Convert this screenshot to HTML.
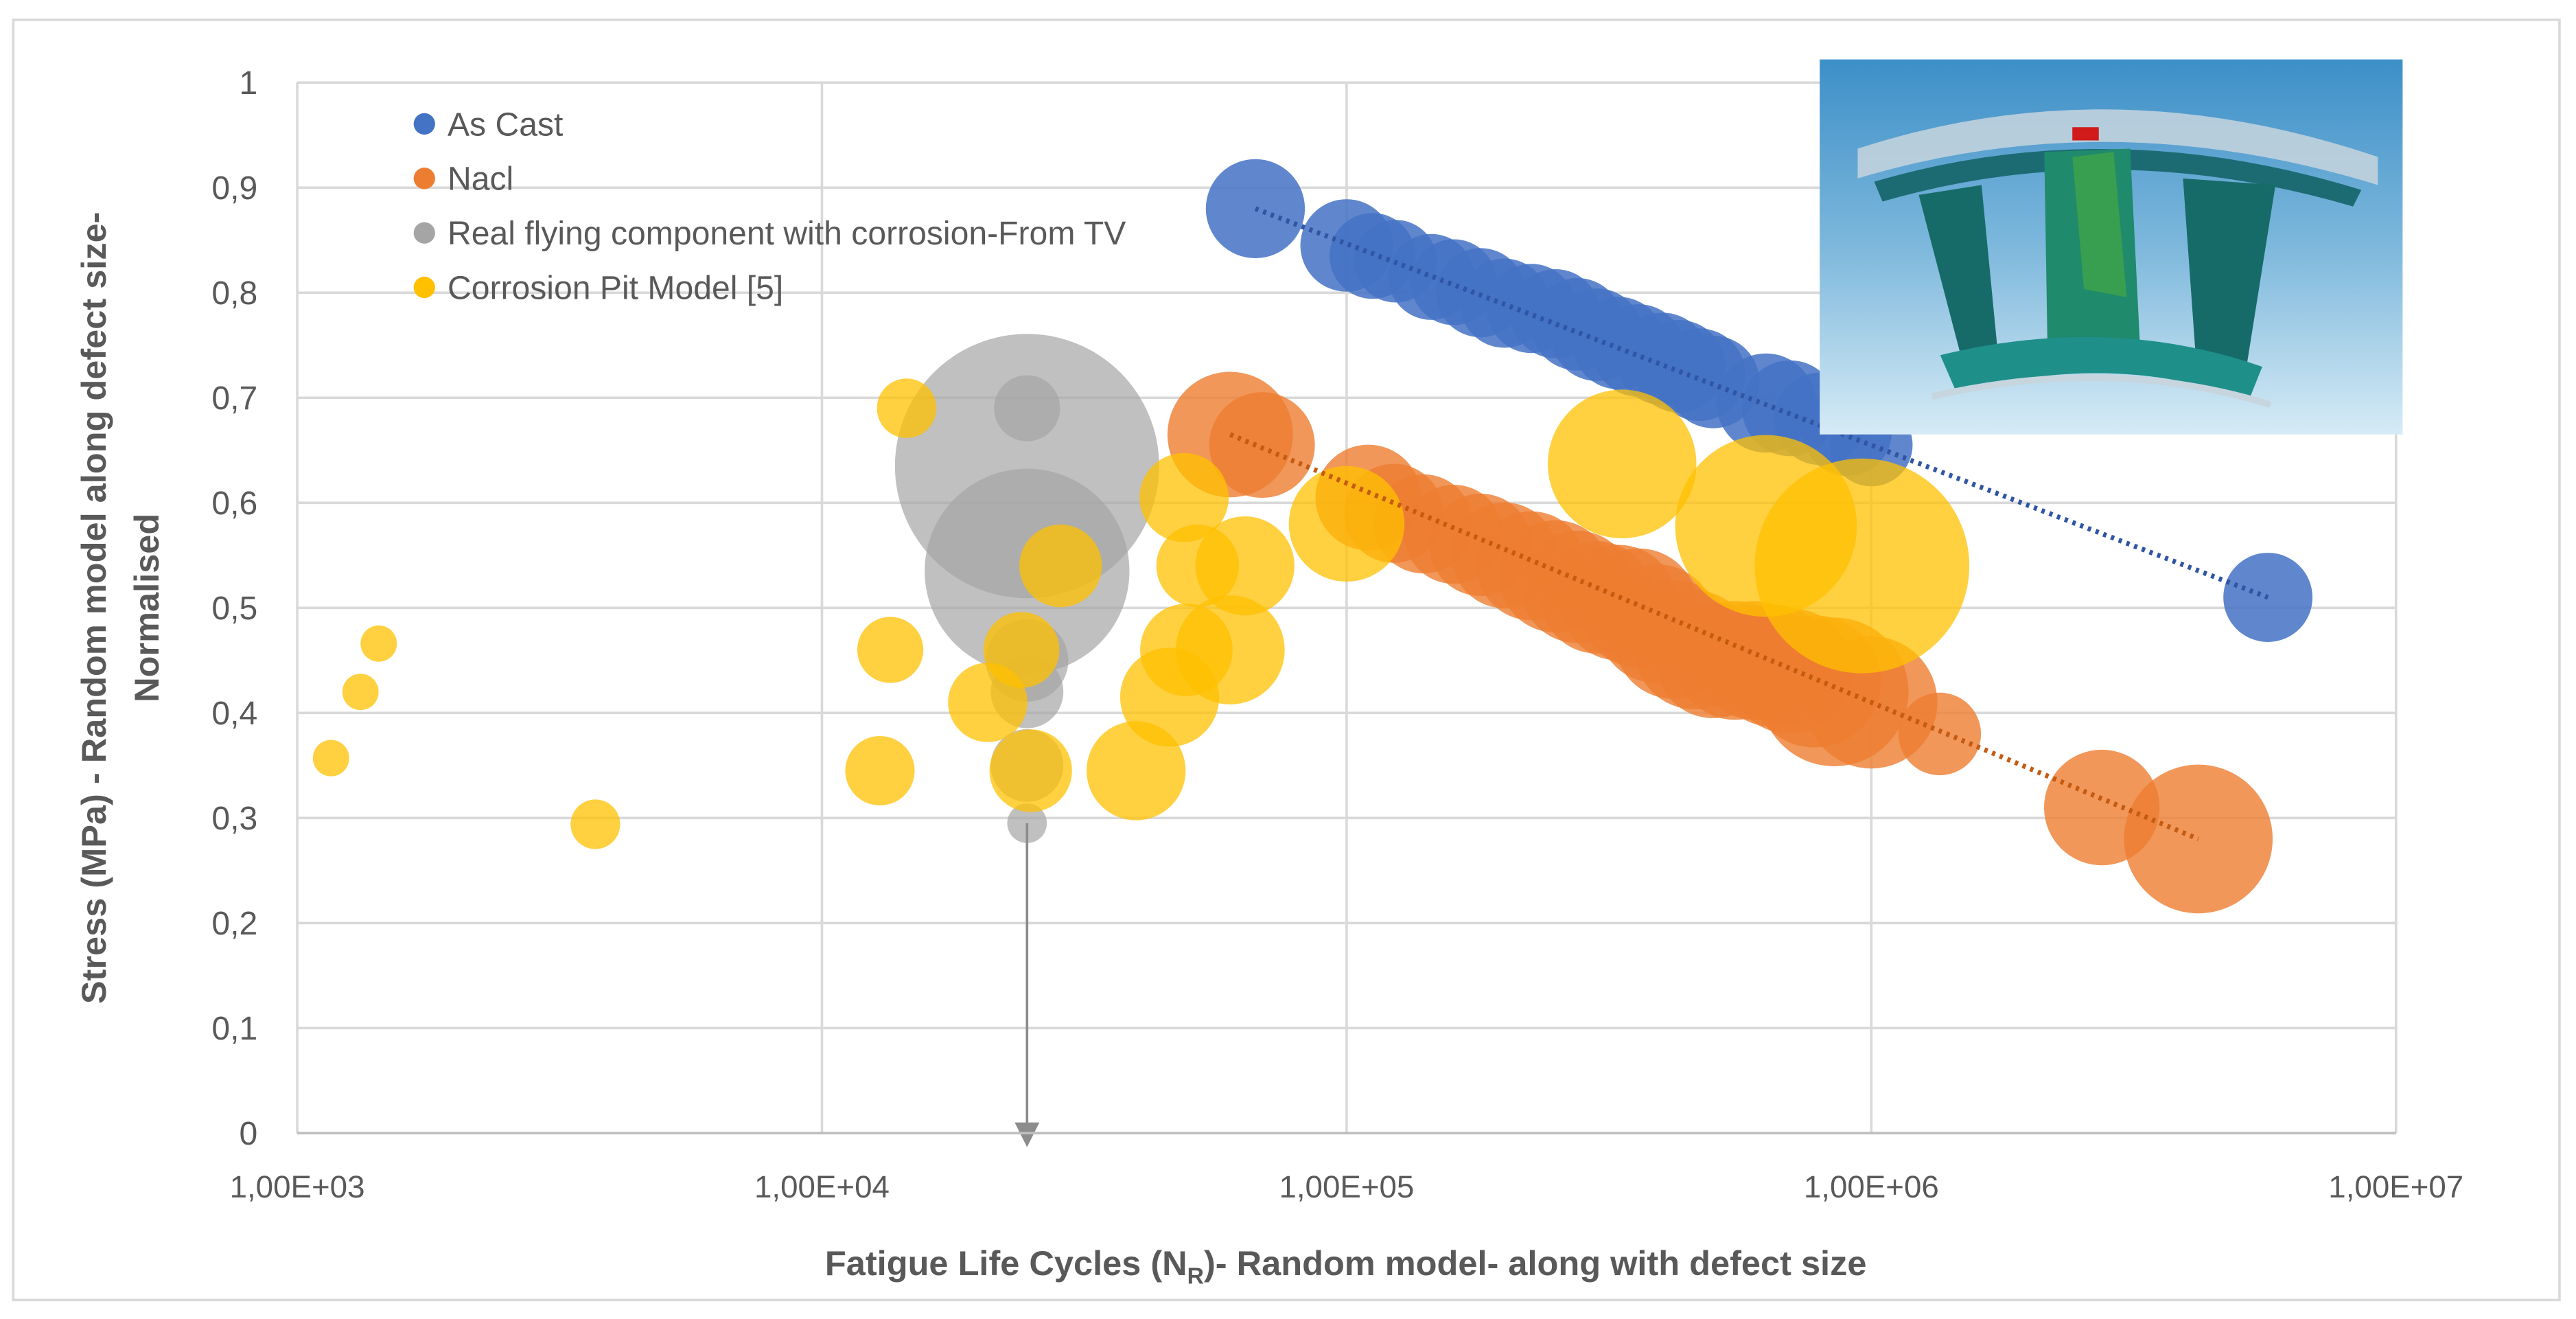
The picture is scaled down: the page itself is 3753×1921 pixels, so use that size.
<!DOCTYPE html>
<html><head><meta charset="utf-8">
<style>
html,body{margin:0;padding:0;background:#fff;}
svg{display:block;font-family:"Liberation Sans",sans-serif;}
</style></head>
<body>
<svg id="chart" width="3753" height="1921" viewBox="0 0 1560 798.5" xmlns="http://www.w3.org/2000/svg">
<defs>
<linearGradient id="insetBg" x1="0" y1="0" x2="0" y2="1">
<stop offset="0" stop-color="#3d8fc8"/><stop offset="0.5" stop-color="#7db8dc"/><stop offset="1" stop-color="#d6ebf6"/>
</linearGradient>
<marker id="arrowHead" markerWidth="10" markerHeight="10" refX="5" refY="5" orient="auto">
<path d="M0,0 L10,5 L0,10 Z" fill="#8c8c8c"/>
</marker>
</defs>
<rect x="8" y="12" width="1542" height="775" fill="#fff" stroke="#d9d9d9" stroke-width="1.5"/>
<g id="grid"></g>
<g id="marks"></g>
<g id="axes"></g>
<g>
<rect x="1102" y="36" width="353" height="227" fill="url(#insetBg)"/>
<path d="M1125,90 Q1278,40 1440,95 L1440,112 Q1278,62 1125,108 Z" fill="#c7d5de" opacity="0.85"/>
<path d="M1135,110 Q1278,68 1430,115 L1425,125 Q1278,82 1140,122 Z" fill="#1c6b73"/>
<path d="M1162,118 L1200,112 L1210,215 L1190,225 Z" fill="#166b68"/>
<path d="M1238,92 L1290,90 L1296,210 L1240,214 Z" fill="#1f8a6c"/>
<path d="M1255,95 L1280,92 L1288,180 L1262,175 Z" fill="#3fa24a" opacity="0.8"/>
<rect x="1255" y="77" width="16" height="8" fill="#d11a1a"/>
<path d="M1322,108 L1378,112 L1360,225 L1330,220 Z" fill="#166b68"/>
<path d="M1175,215 Q1278,190 1370,222 L1362,242 Q1278,212 1185,238 Z" fill="#1f8f8a"/>
<path d="M1170,240 Q1278,215 1375,245" stroke="#c7d5de" stroke-width="4" fill="none"/>
</g>
<g id="legend"></g>
<text x="815" y="772" text-anchor="middle" font-size="21" font-weight="bold" fill="#595959">Fatigue Life Cycles (N<tspan font-size="14" dy="5">R</tspan><tspan dy="-5">)- Random model- along with defect size</tspan></text>
<text transform="translate(64,368) rotate(-90)" text-anchor="middle" font-size="21" font-weight="bold" fill="#595959">Stress (MPa)  - Random model along  defect size-</text>
<text transform="translate(96,368) rotate(-90)" text-anchor="middle" font-size="21" font-weight="bold" fill="#595959">Normalised</text>
</svg>
<script>
const xTicks=[1e3,1e4,1e5,1e6,1e7];
const xTickLabels=["1,00E+03","1,00E+04","1,00E+05","1,00E+06","1,00E+07"];
const yTicks=[0,0.1,0.2,0.3,0.4,0.5,0.6,0.7,0.8,0.9,1];
const yTickLabels=["0","0,1","0,2","0,3","0,4","0,5","0,6","0,7","0,8","0,9","1"];
const seriesNames=["As Cast","Nacl","Real flying component with corrosion-From TV","Corrosion Pit Model [5]"];
const seriesColors=["#4472C4","#ED7D31","#A5A5A5","#FFC000"];
const asCastX=[6.7e4,1.0e5,1.12e5,1.24e5,1.45e5,1.6e5,1.8e5,2.0e5,2.25e5,2.5e5,2.75e5,3.0e5,3.3e5,3.6e5,4.0e5,4.3e5,4.7e5,5.0e5,6.3e5,7.0e5,8.0e5,9.0e5,1.0e6,5.7e6];
const asCastY=[0.88,0.845,0.835,0.83,0.815,0.81,0.8,0.79,0.785,0.78,0.77,0.76,0.752,0.745,0.737,0.73,0.722,0.715,0.695,0.69,0.68,0.668,0.655,0.51];
const asCastSize=[30,28,26,25,26,26,27,27,27,27,28,28,28,28,28,28,28,28,30,29,28,27,25,27];
const naclX=[6.0e4,6.9e4,1.1e5,1.23e5,1.4e5,1.6e5,1.8e5,2.0e5,2.25e5,2.5e5,2.75e5,3.0e5,3.3e5,3.6e5,3.9e5,4.2e5,4.6e5,5.0e5,5.5e5,6.0e5,6.5e5,7.0e5,7.8e5,8.5e5,1.0e6,1.35e6,2.75e6,4.2e6];
const naclY=[0.665,0.655,0.605,0.59,0.58,0.57,0.56,0.55,0.54,0.53,0.52,0.51,0.505,0.50,0.485,0.47,0.46,0.45,0.45,0.45,0.445,0.44,0.43,0.42,0.41,0.38,0.31,0.28];
const naclSize=[38,32,32,30,30,30,31,32,33,34,34,34,35,36,36,36,36,35,36,36,37,38,40,45,40,25,35,45];
const realX=[2.46e4,2.46e4,2.46e4,2.46e4,2.46e4,2.46e4,2.46e4];
const realY=[0.635,0.535,0.69,0.45,0.42,0.35,0.295];
const realSize=[80,62,20,25,22,22,12];
const pitX=[1.16e3,1.32e3,1.43e3,3.7e3,1.29e4,1.35e4,1.45e4,2.07e4,2.4e4,2.5e4,2.85e4,3.97e4,4.6e4,4.9e4,4.95e4,5.2e4,6.4e4,6.0e4,1.0e5,3.35e5,6.3e5,9.6e5];
const pitY=[0.357,0.42,0.466,0.294,0.345,0.46,0.69,0.41,0.46,0.345,0.54,0.345,0.415,0.605,0.46,0.54,0.54,0.46,0.58,0.637,0.578,0.54];
const pitSize=[11,11,11,15,21,20,18,24,23,25,25,30,30,27,28,25,30,33,35,45,55,65];

const NS="http://www.w3.org/2000/svg";
const X0=180,X1=1451,Y0=686,Y1=50;
function xScale(v){return X0+(Math.log10(v)-3)/4*(X1-X0);}
function yScale(v){return Y0-v*(Y0-Y1);}
function mk(tag,attrs,parent){const e=document.createElementNS(NS,tag);for(const k in attrs)e.setAttribute(k,attrs[k]);parent.appendChild(e);return e;}
const grid=document.getElementById('grid'),marks=document.getElementById('marks'),axes=document.getElementById('axes'),legend=document.getElementById('legend');

yTicks.forEach((t,i)=>{
  const l=mk('line',{x1:X0,x2:X1,y1:yScale(t),y2:yScale(t),stroke:'#d9d9d9','stroke-width':1.5},grid);
  
  
  const tx=mk('text',{x:156,y:yScale(t)+7,'text-anchor':'end','font-size':20,fill:'#595959'},axes);
  tx.textContent=yTickLabels[i];
  
  
});
xTicks.forEach((t,i)=>{
  const l=mk('line',{x1:xScale(t),x2:xScale(t),y1:Y1,y2:Y0,stroke:'#d9d9d9','stroke-width':1.5},grid);
  
  
  const tx=mk('text',{x:xScale(t),y:725,'text-anchor':'middle','font-size':19,fill:'#595959'},axes);
  tx.textContent=xTickLabels[i];
  
  
});
const ax=mk('line',{x1:X0,x2:X1,y1:Y0,y2:Y0,stroke:'#bfbfbf','stroke-width':1.5},axes);



function drawSeries(xs,ys,sz,color,name,op){
  const g=mk('g',{},marks);
  
  
  xs.forEach((x,i)=>{
    const c=mk('circle',{cx:xScale(x),cy:yScale(ys[i]),r:sz[i],fill:color,'fill-opacity':op},g);
    
    
  });
  return g;
}
drawSeries(realX,realY,realSize,seriesColors[2],'real-flying',0.7);
drawSeries(naclX,naclY,naclSize,seriesColors[1],'nacl',0.8);
drawSeries(asCastX,asCastY,asCastSize,seriesColors[0],'as-cast',0.85);
drawSeries(pitX,pitY,pitSize,seriesColors[3],'corrosion-pit',0.75);

function trend(xs,ys,color,name){
  const n=xs.length;
  const l=mk('line',{x1:xScale(xs[0]),y1:yScale(ys[0]),x2:xScale(xs[n-1]),y2:yScale(ys[n-1]),stroke:color,'stroke-width':3,'stroke-dasharray':'2 3'},marks);
  
  
}
trend(asCastX,asCastY,'#2f55a4','as-cast-trendline');
trend(naclX,naclY,'#c55a11','nacl-trendline');

const ar=mk('line',{x1:xScale(realX[6]),y1:yScale(realY[6]),x2:xScale(realX[6]),y2:Y0+1,stroke:'#8c8c8c','stroke-width':1.5,'marker-end':'url(#arrowHead)'},marks);



seriesNames.forEach((n,i)=>{
  const y=75+i*33;
  const d=mk('circle',{cx:257,cy:y,r:6.5,fill:seriesColors[i]},legend);
  
  
  const t=mk('text',{x:271,y:y+7,'font-size':20,fill:'#595959'},legend);
  t.textContent=n;
  
  
});
</script>
</body></html>
